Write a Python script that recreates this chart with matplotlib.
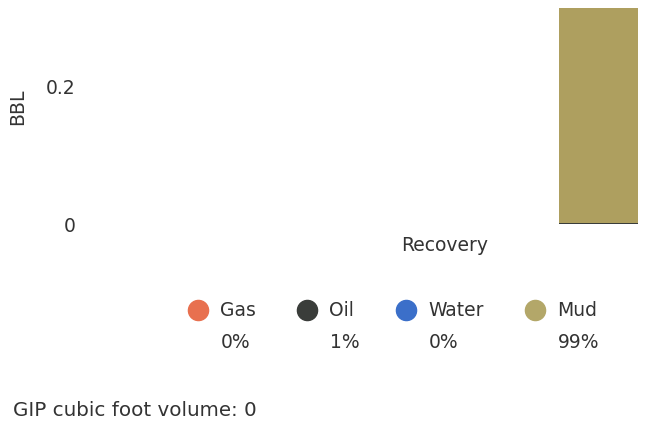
import matplotlib.pyplot as plt
from matplotlib.lines import Line2D

categories = ['Recovery']
fluids = ['Gas', 'Oil', 'Water', 'Mud']
volumes = [0.0, 0.0015, 0.0, 0.313]
percents = ['0%', '1%', '0%', '99%']
bar_colors = ['#e8704f', '#3a3d3a', '#3b6fc9', '#ae9f5f']
marker_colors = ['#e8704f', '#3a3d3a', '#3b6fc9', '#b3a769']
yticks = [0, 0.2]
ytick_labels = ['0', '0.2']
gip_volume = 0

W, H = 645, 421
fig = plt.figure(figsize=(W / 100, H / 100), dpi=100)
txt = '#333333'
fs = 13.5

# plot area in pixels: x 90..640, y 8..224
ax = fig.add_axes([90 / W, 1 - 224 / H, 550 / W, 216 / H])
bottom = 0.0
for name, v, c in zip(fluids, volumes, bar_colors):
    ax.bar(0, v, width=1.0, bottom=bottom, color=c, linewidth=0)
    bottom += v
ax.set_xlim(-6.44, 0.525)
ax.set_ylim(0, sum(volumes))
ax.set_xticks([])
ax.set_yticks(yticks)
ax.set_yticklabels(ytick_labels, fontsize=fs, color=txt)
ax.tick_params(axis='y', length=0, pad=10.5)
for s in ax.spines.values():
    s.set_visible(False)

fig.text(18 / W, 1 - 107 / H, 'BBL', rotation=90, ha='center', va='center',
         fontsize=fs, color=txt)
fig.text(445 / W, 1 - 246 / H, categories[0], ha='center', va='center',
         fontsize=fs, color=txt)

# legend with percentages
mx = [198, 307, 406, 535]
for x, name, pct, c in zip(mx, fluids, percents, marker_colors):
    fig.add_artist(Line2D([x / W], [1 - 310 / H], marker='o', markersize=14.5,
                          color=c, linestyle='none'))
    fig.text((x + 22) / W, 1 - 311 / H, name, ha='left', va='center',
             fontsize=fs, color=txt)
    fig.text((x + 23) / W, 1 - 343 / H, pct, ha='left', va='center',
             fontsize=fs, color=txt)

fig.text(13 / W, 1 - 410 / H, 'GIP cubic foot volume: %d' % gip_volume,
         ha='left', va='center', fontsize=14.3, color=txt)

fig.savefig('out.png', dpi=100)
